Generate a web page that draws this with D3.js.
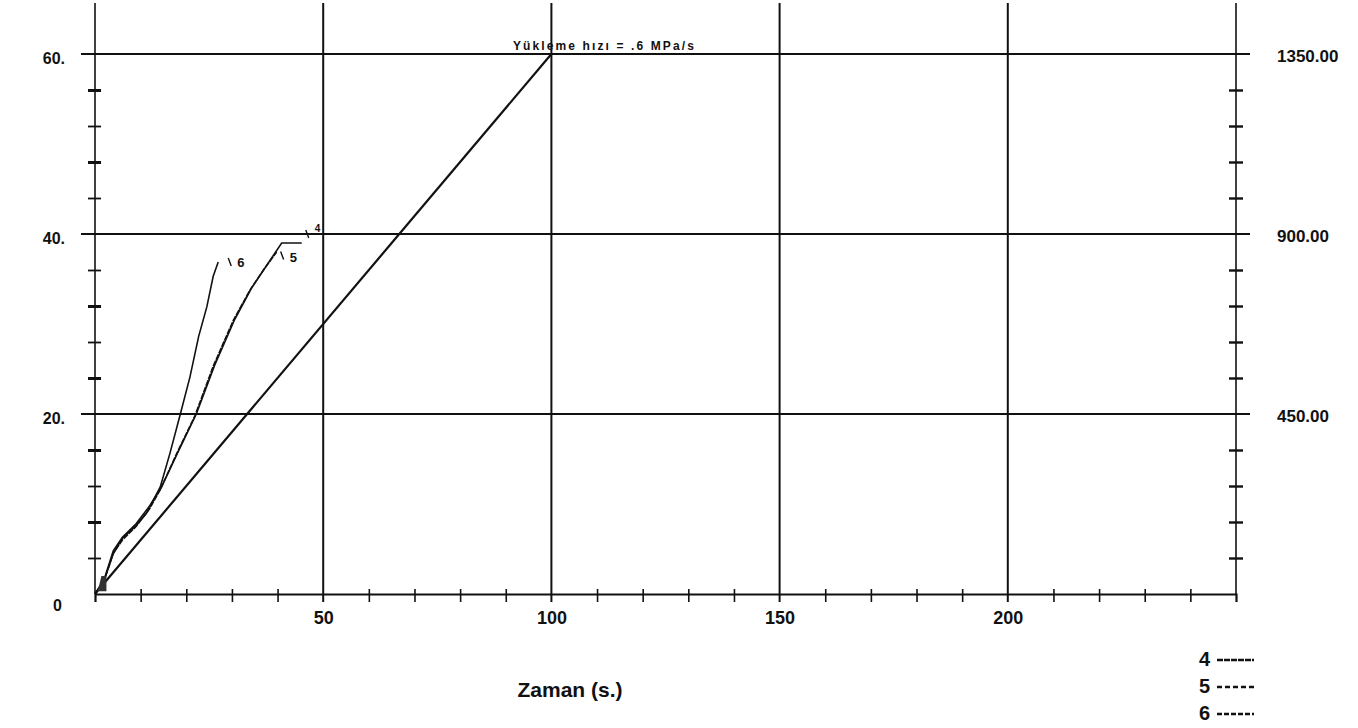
<!DOCTYPE html>
<html><head><meta charset="utf-8">
<script src="https://cdn.jsdelivr.net/npm/d3@7"></script>
<style>body{margin:0;background:#fff;} text{font-family:"Liberation Sans",Arial,sans-serif;fill:#111;}</style>
</head><body>
<svg id="c" width="1358" height="728"></svg>
<script>
// ---- data ----
const xMajorTicks = [50, 100, 150, 200];
const xMinorTicks = [10,20,30,40,60,70,80,90,110,120,130,140,160,170,180,190,210,220,230,240];
const yMajorTicks = [0, 20, 40, 60];
const yLeftLabels = ["0", "20.", "40.", "60."];
const yRightLabels = ["", "450.00", "900.00", "1350.00"];
const yMinorTicks = [4,8,12,16,24,28,32,36,44,48,52,56];
const loadingLine = [[0,0],[100,60]];
const series4 = [[0,0],[2,1.6],[4,4.8],[6,6.3],[9,7.8],[12,9.8],[14.5,11.8],[18.2,15.8],[22.2,20],[26.2,25.4],[30.6,30.5],[34.3,34],[37.2,36.2],[40.9,39],[45.3,39]];
const series5 = [[0,0],[2,1.5],[4,4.5],[6,6],[9,7.5],[12,9.5],[14.3,11.6],[17.9,15.6],[21.9,19.8],[25.9,25.3],[30.3,30.4],[34,33.8],[36.9,36],[39.8,38]];
const series6 = [[0,0],[2,1.5],[4,4.5],[6,6.2],[9,7.6],[11.3,9],[14.3,11.9],[16.4,15.6],[18.6,19.8],[20.8,24.1],[22.7,28.6],[24.5,31.9],[25.9,35.3],[27,36.9]];
const legendNames = ["4","5","6"];
const title = "Yükleme hızı = .6 MPa/s";
const xTitle = "Zaman (s.)";

const svg = d3.select("#c");
const x = d3.scaleLinear().domain([0,250]).range([95,1236]);
const y = d3.scaleLinear().domain([0,60]).range([594,54]);
const yR = d3.scaleLinear().domain([0,1350]).range([594,54]);

// horizontal gridlines
svg.append("g").selectAll("line").data(yMajorTicks.slice(1)).join("line")
  .attr("x1",81).attr("x2",1250).attr("y1",d=>y(d)).attr("y2",d=>y(d))
  .attr("stroke","#111").attr("stroke-width",2);
// vertical gridlines incl. axes
svg.append("g").selectAll("line").data([0,50,100,150,200,250]).join("line")
  .attr("x1",d=>x(d)).attr("x2",d=>x(d)).attr("y1",3).attr("y2",d=> (d===0||d===250)?594:602)
  .attr("stroke","#111").attr("stroke-width",d=> (d===0||d===250)?1.6:2);

// x axis
const gx = svg.append("g").attr("transform","translate(0,594)")
  .call(d3.axisBottom(x).tickValues(xMinorTicks).tickSize(8).tickFormat(""));
gx.select(".domain").attr("stroke","#111").attr("stroke-width",2.2);
gx.selectAll(".tick line").attr("y1",-5).attr("y2",8).attr("stroke","#111").attr("stroke-width",1.6);
const gx2 = svg.append("g").attr("transform","translate(0,594)")
  .call(d3.axisBottom(x).tickValues(xMajorTicks).tickSize(0).tickPadding(17));
gx2.select(".domain").remove();
gx2.selectAll("text").attr("font-size",18).attr("font-weight","bold").style("font-family","Liberation Sans, Arial");

// left axis
const gl = svg.append("g").attr("transform","translate(95,0)")
  .call(d3.axisLeft(y).tickValues(yMinorTicks).tickSize(8).tickFormat(""));
gl.select(".domain").remove();
gl.selectAll(".tick line").attr("x1",6).attr("x2",-7).attr("stroke","#111").attr("stroke-width",d=>d%8===0?3:1.8);
const gl2 = svg.append("g").attr("transform","translate(95,0)")
  .call(d3.axisLeft(y).tickValues(yMajorTicks).tickSize(0).tickPadding(30)
    .tickFormat((d,i)=>yLeftLabels[i]));
gl2.select(".domain").remove();
gl2.selectAll("text").attr("font-size",16).attr("font-weight","bold")
  .attr("dy",d=>d===0?"1.05em":"0.6em").attr("dx",d=>d===0?"-3":"0");

// right axis
const gr = svg.append("g").attr("transform","translate(1236,0)")
  .call(d3.axisRight(y).tickValues(yMinorTicks).tickSize(8).tickFormat(""));
gr.select(".domain").remove();
gr.selectAll(".tick line").attr("x1",-7).attr("x2",7).attr("stroke","#111").attr("stroke-width",2.4);
const gr2 = svg.append("g").attr("transform","translate(1236,0)")
  .call(d3.axisRight(yR).tickValues([450,900,1350]).tickSize(0).tickPadding(41)
    .tickFormat(d=>yRightLabels[yMajorTicks.indexOf(d/22.5)]));
gr2.select(".domain").remove();
gr2.selectAll("text").attr("font-size",17).attr("font-weight","bold").attr("dy","0.45em");

// lines
const line = d3.line().x(d=>x(d[0])).y(d=>y(d[1]));
svg.append("path").datum(loadingLine).attr("d",line).attr("fill","none").attr("stroke","#111").attr("stroke-width",2.2);
svg.append("path").datum(series6).attr("d",line).attr("fill","none").attr("stroke","#111").attr("stroke-width",1.6);
svg.append("path").datum(series5).attr("d",line).attr("fill","none").attr("stroke","#111").attr("stroke-width",1.6).attr("stroke-dasharray","6,1");
svg.append("path").datum(series4).attr("d",line).attr("fill","none").attr("stroke","#111").attr("stroke-width",1.6);

// origin marker
svg.append("path").attr("d",`M${x(0.6)},${y(0.3)} L${x(2.5)},${y(0.3)} L${x(2.5)},${y(2)} L${x(1.4)},${y(2)} Z`).attr("fill","#333");

// curve end labels with leader strokes
const ends = [[series6,"6",8,0,5],[series5,"5",2,0.4,6],[series4,"4",2,-1,-2]];
ends.forEach(([s,name,dx,dy,ty])=>{
  const p = s[s.length-1];
  const px = x(p[0])+dx, py = y(p[1])+dy*9;
  svg.append("line").attr("x1",px+2).attr("y1",py-4).attr("x2",px+5).attr("y2",py+4).attr("stroke","#111").attr("stroke-width",1.4);
  svg.append("text").attr("x",px+11).attr("y",py+ty).attr("font-size",name==="4"?10:13).attr("font-weight","bold").text(name);
});

// title
svg.append("text").attr("x",513).attr("y",50).attr("font-size",12).attr("font-weight","bold")
  .attr("letter-spacing",1.2).attr("textLength",182).attr("lengthAdjust","spacing").text(title);
// x title
svg.append("text").attr("x",570).attr("y",697).attr("text-anchor","middle").attr("font-size",21).attr("font-weight","bold").text(xTitle);

// legend
const lg = svg.append("g").selectAll("g").data(legendNames).join("g")
  .attr("transform",(d,i)=>`translate(1199,${659+i*27})`);
lg.append("text").attr("y",7).attr("font-size",20).attr("font-weight","bold").text(d=>d);
lg.append("line").attr("x1",18).attr("x2",55).attr("y1",1).attr("y2",1).attr("stroke","#111").attr("stroke-width",2.4)
  .attr("stroke-dasharray",(d,i)=>["6,1","5,3","5,2"][i]);
</script>
</body></html>
